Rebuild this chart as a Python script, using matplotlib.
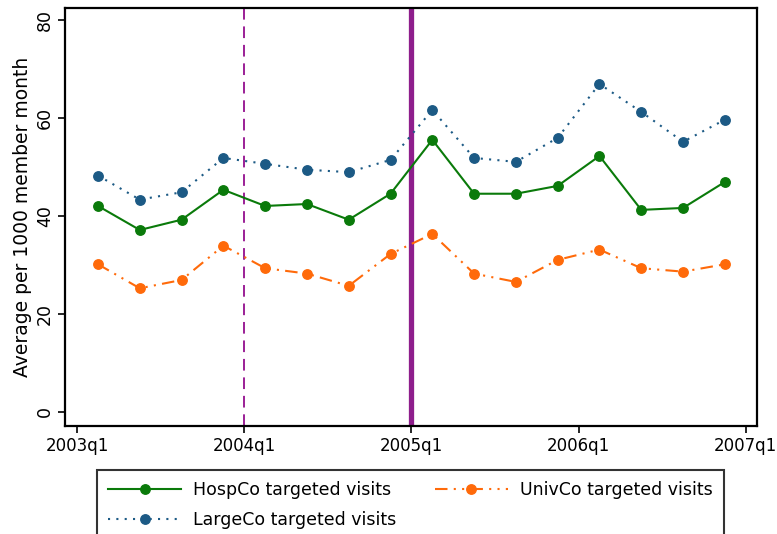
import matplotlib
matplotlib.use("Agg")
import matplotlib.pyplot as plt

# quarter index (0 = 2003q1), points plotted mid-quarter
quarters = [0.5, 1.5, 2.5, 3.5, 4.5, 5.5, 6.5, 7.5, 8.5, 9.5, 10.5, 11.5, 12.5, 13.5, 14.5, 15.5]
hospco = [42.0, 37.1, 39.2, 45.3, 42.0, 42.4, 39.2, 44.5, 55.5, 44.5, 44.5, 46.1, 52.2, 41.2, 41.6, 46.9]
largeco = [48.2, 43.3, 44.8, 51.8, 50.6, 49.4, 48.9, 51.4, 61.6, 51.8, 51.0, 55.9, 66.9, 61.2, 55.1, 59.6]
univco = [30.1, 25.2, 26.9, 33.9, 29.3, 28.2, 25.7, 32.2, 36.3, 28.2, 26.5, 31.0, 33.1, 29.3, 28.6, 30.1]
xtick_pos = [0, 4, 8, 12, 16]
xtick_labels = ["2003q1", "2004q1", "2005q1", "2006q1", "2007q1"]
ytick_pos = [0, 20, 40, 60, 80]
event_dashed = 4
event_solid = 8

plt.rcParams['font.family'] = ['DejaVu Sans']
fig = plt.figure(figsize=(7.77, 5.34), dpi=100)
ax = fig.add_axes([65/777, 108/534, (757-65)/777, (426-8)/534])

purple = '#9b1f96'
ax.axvline(event_dashed, color=purple, lw=1.4, ls=(0, (6, 3.5)), zorder=1)
ax.axvline(event_solid, color='#8e1e8c', lw=3.8, zorder=1)

ms = 6.8
ax.plot(quarters, hospco, color='#0a7a0a', lw=1.5, ls='-', marker='o', ms=ms,
        label='HospCo targeted visits', zorder=3)
ax.plot(quarters, largeco, color='#1c5a85', lw=1.5, ls=(0, (1, 3)), marker='o', ms=ms,
        label='LargeCo targeted visits', zorder=3)
ax.plot(quarters, univco, color='#ff6a0a', lw=1.5, ls=(0, (6, 3, 1, 3, 1, 3)), marker='o', ms=ms,
        label='UnivCo targeted visits', zorder=3)

ax.set_xlim(-0.29, 16.27)
ax.set_ylim(-2.9, 82.4)
ax.set_xticks(xtick_pos)
ax.set_xticklabels(xtick_labels, fontsize=12)
ax.set_yticks(ytick_pos)
ax.set_yticklabels([str(v) for v in ytick_pos], fontsize=12.5, rotation=90, va='center')
ax.set_ylabel('Average per 1000 member month', fontsize=13.5, labelpad=3)
ax.tick_params(axis='both', direction='out', length=5, width=1.2, pad=3)
for s in ax.spines.values():
    s.set_linewidth(1.6)

leg = fig.legend(loc='upper left', bbox_to_anchor=(97/777, 64/534, (724-97)/777, 0),
                 mode='expand', ncol=2, fontsize=12.5, frameon=True, fancybox=False,
                 edgecolor='black', handlelength=4.2, borderpad=0.65, labelspacing=0.7,
                 columnspacing=1.5, handletextpad=0.7, borderaxespad=0)
leg.get_frame().set_linewidth(1.5)

fig.savefig('out.png', dpi=100)
